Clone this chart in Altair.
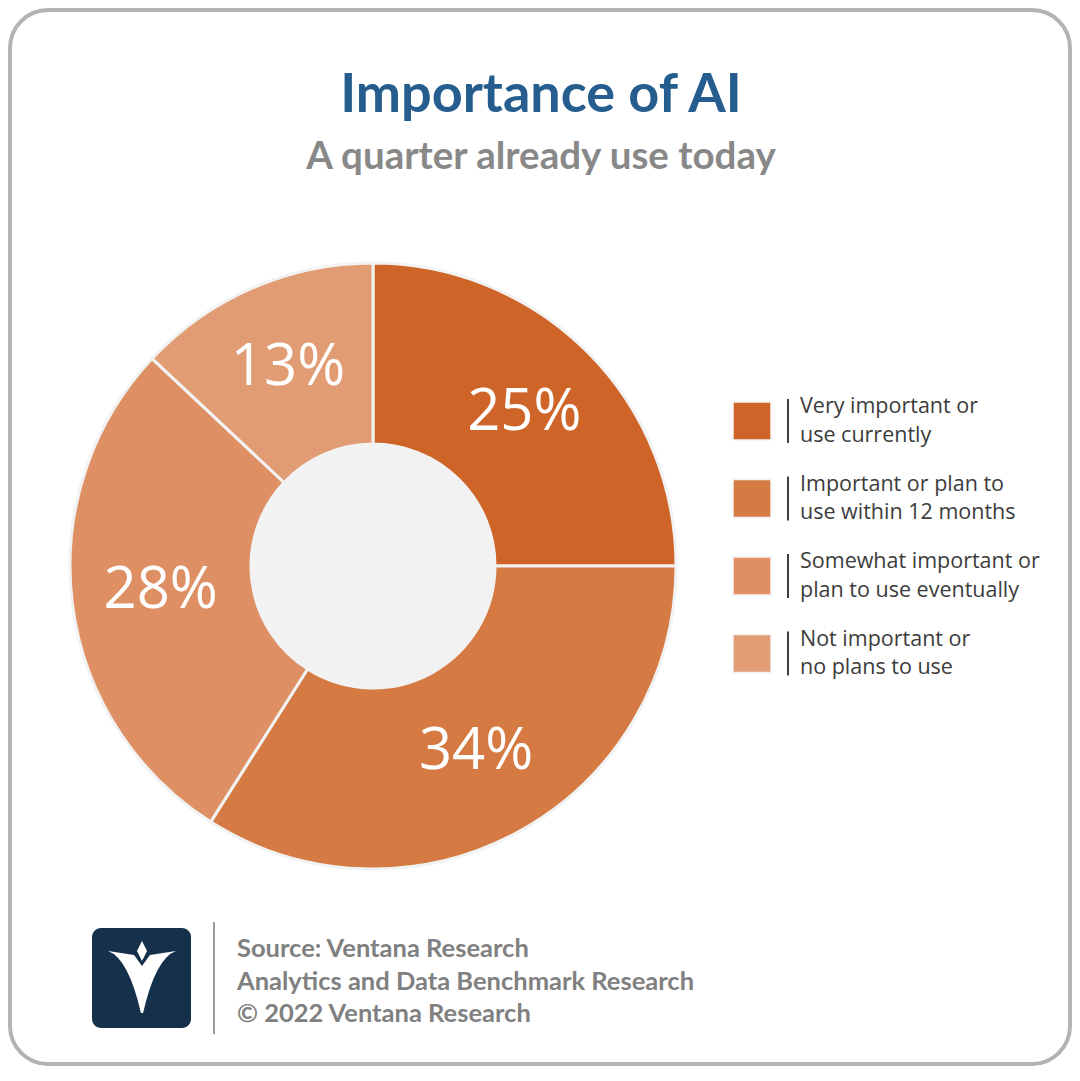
import altair as alt
import pandas as pd

# ---------------- data ----------------
categories = [
    "Very important or use currently",
    "Important or plan to use within 12 months",
    "Somewhat important or plan to use eventually",
    "Not important or no plans to use",
]
legend_labels = [
    "Very important or\nuse currently",
    "Important or plan to\nuse within 12 months",
    "Somewhat important or\nplan to use eventually",
    "Not important or\nno plans to use",
]
values = [25, 34, 28, 13]
colors = ["#CF6429", "#D57A42", "#DE9064", "#E19C74"]
title_text = "Importance of AI"
subtitle_text = "A quarter already use today"
footer_lines = [
    "Source: Ventana Research",
    "Analytics and Data Benchmark Research",
    "\u00a9 2022 Ventana Research",
]

df = pd.DataFrame({
    "category": categories,
    "label": legend_labels,
    "value": values,
    "idx": list(range(len(categories))),
})
df["pct"] = df["value"].astype(str) + "%"

foot_df = pd.DataFrame({"line": footer_lines, "idx": list(range(len(footer_lines)))})
one = pd.DataFrame({"a": [0]})

# ---------------- layout (chart coords = page - 8) ----------------
W, H = 1064, 1058
CX, CY = 365, 558
R_OUT, R_IN = 303, 122

cscale = alt.Scale(domain=categories, range=colors)

frame = alt.Chart(one).mark_rect(
    cornerRadius=38, fill="white", stroke="#B3B3B3", strokeWidth=4
).encode(x=alt.value(2), x2=alt.value(W - 2), y=alt.value(2), y2=alt.value(H - 2))

title = alt.Chart(pd.DataFrame({"t": [title_text]})).mark_text(
    font="Lato", fontWeight="bold", fontSize=54, color="#245D8E",
    align="center", baseline="alphabetic"
).encode(text="t:N", x=alt.value(533), y=alt.value(104))

subtitle = alt.Chart(pd.DataFrame({"t": [subtitle_text]})).mark_text(
    font="Lato", fontWeight="bold", fontSize=38.5, color="#888888",
    align="center", baseline="alphabetic"
).encode(text="t:N", x=alt.value(533), y=alt.value(161))

hole = alt.Chart(one).mark_arc(
    radius=R_IN + 2, theta=0, theta2=6.2832, color="#F2F2F2"
).encode(x=alt.value(CX), y=alt.value(CY))

arcs = alt.Chart(df).mark_arc(
    radius=R_OUT, radius2=R_IN, stroke="#F2F2F2", strokeWidth=3
).encode(
    theta=alt.Theta("value:Q", stack=True),
    order=alt.Order("idx:Q"),
    color=alt.Color("category:N", scale=cscale, legend=None),
    x=alt.value(CX), y=alt.value(CY),
)

labels = alt.Chart(df).mark_text(
    radius=214, font="Open Sans", fontSize=58, color="white",
    align="center", baseline="middle"
).encode(
    theta=alt.Theta("value:Q", stack=True),
    order=alt.Order("idx:Q"),
    detail="category:N",
    text="pct:N",
    x=alt.value(CX), y=alt.value(CY - 2),
)

leg_base = alt.Chart(df).transform_calculate(
    ly="413 + 77.5 * datum.idx",
    ty="413 + 77.5 * datum.idx - 14",
    y1="413 + 77.5 * datum.idx - 22",
    y2="413 + 77.5 * datum.idx + 22",
)
leg_sq = leg_base.mark_square(
    size=1444, filled=True, opacity=1, stroke="#F2F2F2", strokeWidth=1.5
).encode(
    x=alt.value(744), y=alt.Y("ly:Q", scale=None),
    color=alt.Color("category:N", scale=cscale, legend=None),
)
leg_rule = leg_base.mark_rule(color="#404040", strokeWidth=2).encode(
    x=alt.value(780), y=alt.Y("y1:Q", scale=None), y2="y2:Q"
)
leg_text = leg_base.mark_text(
    font="Open Sans", fontSize=21.5, color="#3C3C3C", align="left",
    baseline="middle", lineBreak="\n", lineHeight=28.5
).encode(x=alt.value(792), y=alt.Y("ty:Q", scale=None), text="label:N")

logo_box = alt.Chart(one).mark_rect(cornerRadius=9, color="#14304A").encode(
    x=alt.value(84), x2=alt.value(183), y=alt.value(920), y2=alt.value(1020)
)
V_PATH = (
    "M-0.944,-0.75 L-0.22,-0.64 L0,-0.33 L0.22,-0.64 L0.944,-0.75 "
    "Q0.38,-0.55 0.03,0.97 L-0.03,0.97 Q-0.38,-0.55 -0.944,-0.75 Z "
    "M0,-1.03 L0.14,-0.75 L0,-0.47 L-0.14,-0.75 Z"
)
logo_v = alt.Chart(one).mark_point(
    shape=V_PATH, size=5184, filled=True, color="white", opacity=1, strokeWidth=0
).encode(x=alt.value(134), y=alt.value(970))
logo_sep = alt.Chart(one).mark_rule(color="#9A9A9A", strokeWidth=2).encode(
    x=alt.value(206), y=alt.value(914), y2=alt.value(1026)
)
footer = alt.Chart(foot_df).transform_calculate(
    fy="941 + 32.5 * datum.idx"
).mark_text(
    font="Lato", fontWeight="bold", fontSize=25.5, color="#808080",
    align="left", baseline="middle"
).encode(x=alt.value(229), y=alt.Y("fy:Q", scale=None), text="line:N")

chart = alt.layer(
    frame, title, subtitle, hole, arcs, labels,
    leg_sq, leg_rule, leg_text, logo_box, logo_v, logo_sep, footer
).properties(
    width=W, height=H, padding=0,
    autosize=alt.AutoSizeParams(type="none"),
).configure_view(stroke=None)

chart.save("out.html", embed_options={"renderer": "svg", "actions": False})
